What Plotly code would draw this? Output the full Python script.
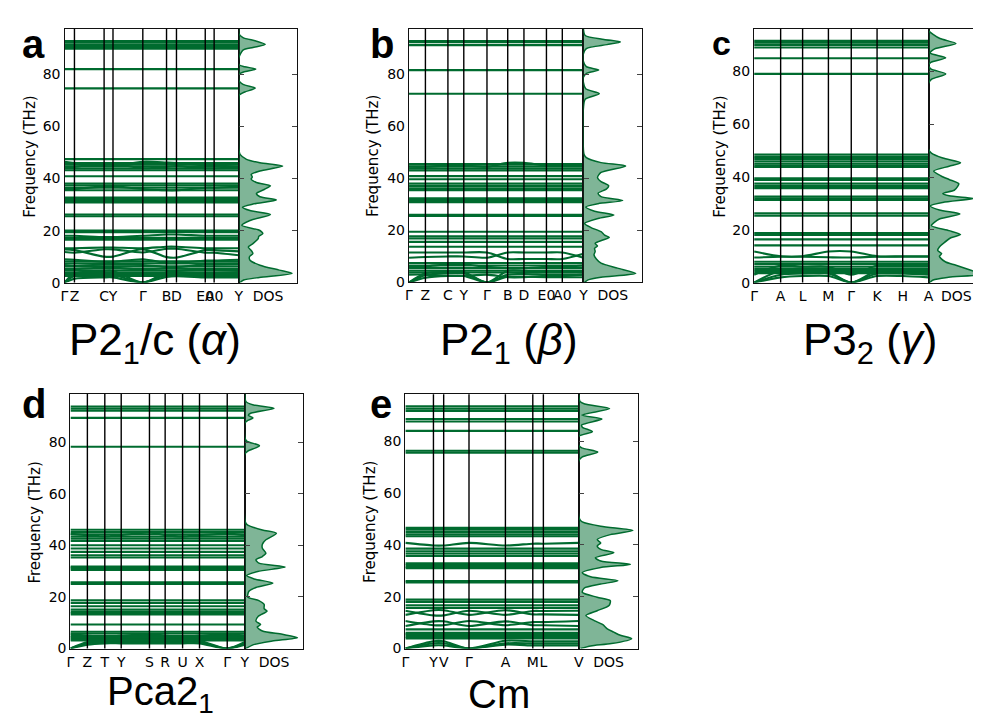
import plotly.graph_objects as go

# ---------------- DATA ----------------
# k-path node positions (normalised path length) and labels
kpos_a = [0, 0.057, 0.227, 0.278, 0.449, 0.585, 0.642, 0.807, 0.858, 1.0]
klab_a = ["Γ", "Z", "C", "Y", "Γ", "B", "D", "E0", "A0", "Y"]
kpos_b = [0, 0.094, 0.223, 0.314, 0.447, 0.566, 0.659, 0.788, 0.879, 1.0]
klab_b = ["Γ", "Z", "C", "Y", "Γ", "B", "D", "E0", "A0", "Y"]
kpos_c = [0, 0.152, 0.278, 0.426, 0.557, 0.705, 0.852, 1.0]
klab_c = ["Γ", "A", "L", "M", "Γ", "K", "H", "A"]
kpos_d = [0, 0.097, 0.197, 0.291, 0.453, 0.543, 0.643, 0.740, 0.899, 1.0]
klab_d = ["Γ", "Z", "T", "Y", "S", "R", "U", "X", "Γ", "Y"]
kpos_e = [0, 0.162, 0.221, 0.367, 0.577, 0.735, 0.796, 1.0]
klab_e = ["Γ", "Y", "V", "Γ", "A", "M", "L", "V"]

# frequency axis maxima (THz)
fmax_a, fmax_b, fmax_c, fmax_d, fmax_e = 97.6, 97.6, 96.2, 98.9, 98.2

# nearly flat phonon branches (THz)
flat_a = [92.9, 92.2, 91.4, 90.6, 89.9, 82.1, 74.7, 47.5, 46.0, 45.4, 44.7, 43.9, 43.2,
          40.9, 38.1, 37.4, 36.5, 35.5, 32.7, 32.1, 31.4, 30.8, 26.2, 25.5, 20.0, 19.4,
          17.2, 16.5, 8.2, 7.4, 6.3, 5.4, 4.6, 3.8, 3.3, 2.6]
flat_b = [92.9, 92.4, 91.3, 81.7, 72.6, 45.5, 44.7, 43.9, 43.1, 40.9, 39.7, 38.0, 37.1,
          36.2, 35.5, 32.4, 31.7, 30.9, 26.0, 25.6, 19.5, 17.7, 16.9, 15.6, 13.7, 7.5,
          6.5, 5.5, 4.5, 3.8]
flat_c = [91.6, 90.9, 90.1, 89.1, 85.0, 79.1, 48.5, 47.6, 46.9, 46.0, 45.1, 44.4, 43.8,
          39.5, 38.9, 37.5, 36.6, 35.8, 32.6, 31.9, 31.3, 26.3, 25.4, 18.8, 18.1, 16.4,
          14.1, 7.9, 7.0, 6.0, 5.1, 4.4, 3.6]
flat_d = [93.9, 93.1, 92.3, 89.5, 78.3, 46.1, 45.2, 44.3, 43.4, 42.6, 41.7, 40.1, 38.8,
          37.5, 36.2, 35.3, 31.8, 31.5, 31.1, 30.5, 25.7, 25.1, 18.7, 17.7, 16.4, 15.1,
          14.2, 13.7, 13.2, 9.3, 6.5, 5.8, 4.9, 4.0, 3.1, 3.5, 4.4]
flat_e = [93.6, 92.7, 91.8, 88.7, 87.7, 84.1, 76.4, 75.7, 46.6, 45.9, 45.0, 44.1, 43.4,
          38.6, 37.6, 36.7, 35.8, 32.9, 32.2, 31.5, 31.0, 26.1, 25.5, 18.9, 18.0, 16.7,
          15.7, 7.4, 6.1, 5.1, 3.9, 4.5, 5.6]

# dispersive branches: frequency at each k-path node (THz)
disp_a = [
    [0, 1.5, 2.0, 2.0, 0, 2.2, 2.5, 2.0, 2.0, 2.0],
    [0, 2.5, 3.0, 3.0, 0, 3.2, 3.5, 3.0, 3.0, 3.0],
    [0, 3.5, 4.5, 4.5, 0, 4.0, 4.5, 5.0, 5.0, 4.5],
    [12.8, 12.5, 10.0, 10.0, 12.8, 9.8, 9.6, 12.5, 12.5, 12.0],
    [11.8, 11.5, 12.8, 12.8, 11.6, 13.0, 13.0, 11.5, 11.5, 10.5],
    [13.2, 13.2, 13.5, 13.5, 13.2, 13.8, 13.8, 13.2, 13.2, 13.2],
    [9.0, 8.8, 8.0, 8.0, 9.0, 7.5, 7.5, 8.5, 8.5, 8.8],
    [46.5, 46.0, 44.8, 44.8, 46.5, 46.2, 46.0, 45.0, 45.0, 45.5],
    [44.0, 44.5, 45.8, 45.8, 44.0, 44.5, 44.8, 44.0, 44.0, 44.2],
    [36.0, 36.0, 37.0, 37.0, 36.0, 35.5, 35.5, 36.5, 36.5, 36.8],
    [31.0, 31.2, 31.8, 31.8, 31.0, 32.2, 32.2, 31.5, 31.5, 31.5],
    [18.0, 18.0, 17.5, 17.5, 18.0, 18.5, 18.5, 18.0, 18.0, 18.0],
    [6.8, 6.5, 7.0, 7.0, 6.8, 6.0, 6.0, 7.0, 7.0, 7.2],
    [5.0, 5.2, 5.8, 5.8, 5.0, 5.5, 5.5, 5.0, 5.0, 5.2],
]
disp_b = [
    [0, 1.8, 2.5, 2.5, 0, 2.2, 2.2, 2.0, 2.0, 2.0],
    [0, 2.8, 3.5, 3.5, 0, 3.0, 3.2, 3.0, 3.0, 3.0],
    [0, 3.5, 4.0, 4.0, 0, 4.5, 4.5, 4.0, 4.0, 4.0],
    [11.5, 11.5, 11.5, 11.5, 11.5, 9.0, 9.0, 9.0, 9.0, 11.0],
    [9.5, 9.8, 10.0, 10.0, 9.5, 11.5, 11.5, 11.5, 11.5, 9.5],
    [44.5, 44.5, 45.0, 45.0, 44.5, 46.0, 46.0, 45.0, 45.0, 45.0],
    [6.0, 6.2, 7.0, 7.0, 6.0, 5.5, 5.5, 6.0, 6.0, 6.5],
    [3.0, 3.0, 2.5, 2.5, 3.0, 2.0, 2.0, 2.5, 2.5, 3.0],
]
disp_c = [
    [0, 2.0, 2.5, 2.5, 0, 2.5, 2.5, 2.0],
    [0, 3.0, 3.5, 3.5, 0, 3.5, 3.5, 3.0],
    [0, 4.5, 4.0, 4.0, 0, 4.5, 4.5, 4.5],
    [11.8, 10.0, 10.0, 11.8, 11.8, 10.0, 10.0, 10.0],
    [9.5, 9.8, 9.8, 9.6, 9.5, 9.8, 9.8, 9.8],
    [3.0, 6.5, 6.0, 6.0, 3.0, 6.5, 6.5, 6.5],
]
disp_d = [
    [0, 1.5, 2.0, 2.0, 2.0, 2.0, 2.0, 2.0, 0, 1.5],
    [0, 2.0, 2.5, 2.5, 2.5, 2.5, 2.5, 2.5, 0, 2.0],
    [0, 2.5, 3.0, 3.0, 3.0, 3.0, 3.0, 3.0, 0, 2.5],
    [44.5, 44.0, 43.5, 44.0, 45.0, 44.0, 43.5, 44.0, 44.5, 44.0],
    [5.5, 5.0, 4.5, 5.0, 5.5, 5.0, 4.5, 5.0, 5.5, 5.0],
]
disp_e = [
    [0, 2.0, 2.0, 0, 2.0, 2.0, 2.0, 2.0],
    [0, 2.8, 2.8, 0, 3.0, 2.8, 2.8, 2.8],
    [0, 1.2, 1.2, 0, 1.5, 1.2, 1.2, 1.2],
    [40.8, 39.8, 39.8, 40.8, 39.8, 40.5, 40.5, 40.8],
    [14.6, 12.8, 12.8, 14.6, 13.0, 14.5, 14.5, 14.6],
    [13.0, 14.8, 14.8, 13.0, 14.8, 13.2, 13.2, 13.0],
    [8.7, 10.5, 10.5, 8.7, 10.5, 9.0, 9.0, 8.7],
    [10.6, 9.0, 9.0, 10.6, 9.0, 10.2, 10.2, 10.6],
]

# phonon DOS: frequency (THz) and normalised density
dosf_a = [0, 1, 2, 3.5, 4.8, 6.7, 8.6, 9.9, 11.2, 12.4, 13.7, 15.0, 16.9, 17.8, 18.8, 19.7,
          20.3, 22.0, 23.9, 26.2, 27.7, 29.0, 30.2, 31.8, 33.0, 34.3, 35.9, 37.2, 38.5,
          39.8, 40.6, 41.6, 42.9, 44.8, 46.1, 47.4, 49.3, 51, 71, 72.2, 73.3, 74.8, 76.2,
          77.7, 80.2, 81.0, 82.1, 83.0, 83.8, 86.5, 89.4, 90.4, 91.6, 92.9, 94.2, 95.7, 97.6]
dosv_a = [0.02, 0.08, 0.35, 0.91, 0.69, 0.36, 0.19, 0.18, 0.24, 0.21, 0.16, 0.24, 0.33, 0.34,
          0.41, 0.38, 0.33, 0.05, 0.19, 0.54, 0.19, 0.06, 0.24, 0.64, 0.36, 0.30, 0.44, 0.54,
          0.30, 0.21, 0.23, 0.21, 0.36, 0.75, 0.36, 0.13, 0.02, 0, 0, 0.01, 0.10, 0.28, 0.07,
          0, 0, 0.08, 0.29, 0.10, 0, 0, 0.07, 0.24, 0.45, 0.29, 0.07, 0, 0]
dosf_b = [0, 1, 2, 3.5, 5.5, 7.4, 9.0, 10.6, 11.9, 13.1, 14.0, 15.0, 16.3, 17.3, 18.2, 19.5,
          21.1, 22.7, 24.6, 25.9, 27.4, 29.0, 30.3, 31.5, 33.0, 34.3, 35.9, 37.2, 38.8, 40.4,
          42.3, 44.8, 46.1, 48.0, 49.3, 51, 67, 70.5, 72.6, 74.5, 77, 79, 80.5, 81.7, 83.0,
          85, 88, 90, 91.5, 92.5, 93.5, 95, 97.6]
dosv_b = [0.02, 0.08, 0.30, 0.89, 0.58, 0.30, 0.22, 0.18, 0.20, 0.19, 0.24, 0.20, 0.33, 0.44,
          0.36, 0.30, 0.13, 0.02, 0.25, 0.52, 0.19, 0.04, 0.25, 0.67, 0.30, 0.25, 0.39, 0.43,
          0.30, 0.24, 0.30, 0.72, 0.30, 0.05, 0.01, 0, 0, 0.03, 0.27, 0.04, 0, 0, 0.06, 0.26,
          0.05, 0, 0, 0.05, 0.40, 0.63, 0.35, 0.03, 0]
dosf_c = [0, 1, 2, 3.2, 4.7, 6.6, 7.8, 9.1, 10.0, 11.0, 12.2, 13.5, 14.7, 17.0, 18.2, 19.7,
          21.6, 24.1, 26.0, 27.5, 29.1, 30.4, 31.9, 32.9, 33.8, 35.0, 36.5, 37.5, 39.1, 40.4,
          42.3, 44.1, 45.4, 47.2, 49.1, 50.5, 75.5, 77.0, 79.1, 81.0, 82.5, 83.5, 85.2, 87,
          88.5, 90.6, 92.5, 94.1, 95.5, 96.2]
dosv_c = [0.02, 0.08, 0.35, 0.93, 0.74, 0.48, 0.30, 0.22, 0.19, 0.23, 0.16, 0.19, 0.25, 0.39,
          0.56, 0.36, 0.05, 0.19, 0.55, 0.19, 0.03, 0.25, 0.79, 0.36, 0.25, 0.45, 0.51, 0.53,
          0.36, 0.22, 0.09, 0.36, 0.56, 0.25, 0.05, 0, 0, 0.05, 0.30, 0.04, 0, 0.04, 0.30,
          0.03, 0.10, 0.48, 0.20, 0.08, 0, 0]
dosf_d = [0, 1.5, 2.9, 4.2, 5.5, 6.8, 8.3, 9.3, 10.6, 12.5, 14.5, 15.5, 17.1, 18.6, 19.9,
          22.2, 23.7, 25.4, 27.0, 28.3, 29.9, 31.6, 33.1, 34.4, 35.7, 37.0, 38.9, 40.5, 42.2,
          44.7, 46.0, 47.9, 48.6, 50, 75.5, 76.6, 78.7, 80.5, 82, 87.5, 88.5, 89.5, 90.5,
          91.3, 93.2, 94.5, 95.8, 98.9]
dosv_d = [0.02, 0.15, 0.47, 0.90, 0.64, 0.30, 0.21, 0.27, 0.19, 0.23, 0.38, 0.33, 0.33, 0.24,
          0.05, 0.07, 0.19, 0.48, 0.16, 0.03, 0.22, 0.69, 0.24, 0.19, 0.30, 0.36, 0.30, 0.30,
          0.36, 0.54, 0.30, 0.05, 0.02, 0, 0, 0.05, 0.25, 0.03, 0, 0, 0.05, 0.14, 0.06, 0.10,
          0.50, 0.15, 0.02, 0]
dosf_e = [0, 1.0, 1.9, 3.8, 5.1, 6.3, 7.6, 9.3, 10.8, 12.7, 14.6, 16.6, 18.5, 19.8, 21.7,
          23.3, 24.9, 26.2, 27.7, 29.3, 31.3, 32.5, 33.8, 35.1, 37.0, 38.3, 39.6, 40.8, 42.1,
          44.0, 45.6, 47.2, 48.9, 49.8, 51, 72.5, 74, 75.9, 77.5, 78.5, 82, 83.8, 85.5, 86.4,
          88.7, 90.2, 92.7, 94.5, 95.5, 98.2]
dosv_e = [0.03, 0.20, 0.55, 0.89, 0.70, 0.59, 0.48, 0.40, 0.26, 0.12, 0.31, 0.51, 0.53, 0.31,
          0.06, 0.09, 0.37, 0.66, 0.20, 0.06, 0.37, 0.87, 0.37, 0.28, 0.59, 0.37, 0.31, 0.37,
          0.31, 0.53, 0.91, 0.37, 0.06, 0.02, 0, 0, 0.06, 0.32, 0.05, 0, 0, 0.23, 0.06, 0.05,
          0.39, 0.05, 0.52, 0.10, 0.02, 0]

panel_letters = ["a", "b", "c", "d", "e"]
panel_titles = ["P2<sub>1</sub>/c (<i>α</i>)", "P2<sub>1</sub> (<i>β</i>)",
                "P3<sub>2</sub> (<i>γ</i>)", "Pca2<sub>1</sub>", "Cm"]
freq_ticks = [0, 20, 40, 60, 80]

# ---------------- LAYOUT (pixel boxes) ----------------
W, H = 981, 720
GREEN = "#006b2f"
FILL = "rgba(0,107,47,0.5)"
AX = "#111111"

panels = [
    dict(kpos=kpos_a, klab=klab_a, fmax=fmax_a, flat=flat_a, disp=disp_a, dosf=dosf_a, dosv=dosv_a,
         box=(53, 229, 288, 21, 277.7), dmax=1.0, ylab=(18.5, 150), letter=(22, 36, 40),
         title=(144, 339, 44)),
    dict(kpos=kpos_b, klab=klab_b, fmax=fmax_b, flat=flat_b, disp=disp_b, dosf=dosf_b, dosv=dosv_b,
         box=(400.7, 576.7, 636, 21, 277.5), dmax=1.0, ylab=(365, 150), letter=(373, 36, 40),
         title=(502, 339, 44)),
    dict(kpos=kpos_c, klab=klab_c, fmax=fmax_c, flat=flat_c, disp=disp_c, dosf=dosf_c, dosv=dosv_c,
         box=(749, 925, 981, 21, 277.7), dmax=0.97, ylab=(715, 150), letter=(716, 35, 34),
         title=(866, 339, 44)),
    dict(kpos=kpos_d, klab=klab_d, fmax=fmax_d, flat=flat_d, disp=disp_d, dosf=dosf_d, dosv=dosv_d,
         box=(59, 235, 294, 390, 647.7), dmax=1.0, ylab=(23.5, 520), letter=(22, 400, 40),
         title=(150, 694, 40)),
    dict(kpos=kpos_e, klab=klab_e, fmax=fmax_e, flat=flat_e, disp=disp_e, dosf=dosf_e, dosv=dosv_e,
         box=(397, 572, 632, 390.7, 647.7), dmax=1.0, ylab=(362, 520), letter=(372, 400, 40),
         title=(492, 694, 40)),
]


def fx(p):
    return max(0.0, min(1.0, p / W))


def fy(p):
    return max(0.0, min(1.0, 1 - p / H))


fig = go.Figure()
layout = dict(width=W, height=H, margin=dict(l=0, r=0, t=0, b=0), paper_bgcolor="white",
              plot_bgcolor="white", showlegend=False)
shapes, annotations = [], []
tickfont = dict(family="DejaVu Sans", size=14, color="black")

for i, p in enumerate(panels):
    nb, nd = 2 * i + 1, 2 * i + 2
    sb = "" if nb == 1 else str(nb)
    sd = str(nd)
    x0, x1, x2, yt, yb = p["box"]

    # bands
    xs, ys = [], []
    for f in p["flat"]:
        xs += [p["kpos"][0], p["kpos"][-1], None]
        ys += [f, f, None]
    for b in p["disp"]:
        xs += list(p["kpos"]) + [None]
        ys += list(b) + [None]
    fig.add_trace(go.Scatter(x=xs, y=ys, mode="lines", xaxis="x" + sb, yaxis="y" + sb,
                             line=dict(color=GREEN, width=2.1, shape="spline", smoothing=0.8),
                             hoverinfo="skip"))
    # DOS
    fig.add_trace(go.Scatter(x=p["dosv"], y=p["dosf"], mode="lines", xaxis="x" + sd, yaxis="y" + sd,
                             fill="tozerox", fillcolor=FILL,
                             line=dict(color=GREEN, width=1.5, shape="spline", smoothing=0.7),
                             hoverinfo="skip"))

    common = dict(showgrid=False, zeroline=False, showline=True, mirror=True,
                  linecolor=AX, linewidth=1.4)
    layout["xaxis" + sb] = dict(domain=[fx(x0), fx(x1)], range=[0, 1], anchor="y" + sb,
                                tickmode="array", tickvals=p["kpos"], ticktext=p["klab"],
                                ticks="", tickangle=0, tickfont=tickfont, **common)
    layout["yaxis" + sb] = dict(domain=[fy(yb), fy(yt)], range=[0, p["fmax"]], anchor="x" + sb,
                                tickmode="array", tickvals=freq_ticks, ticks="",
                                tickfont=tickfont, **common)
    layout["xaxis" + sd] = dict(domain=[fx(x1), fx(x2)], range=[0, p["dmax"]], anchor="y" + sd,
                                tickmode="array", tickvals=[p["dmax"] / 2], ticktext=["DOS"],
                                ticks="", tickangle=0, tickfont=tickfont, **common)
    cd = dict(common)
    cd["mirror"] = "ticks"
    layout["yaxis" + sd] = dict(domain=[fy(yb), fy(yt)], range=[0, p["fmax"]], anchor="x" + sd,
                                tickmode="array", tickvals=freq_ticks, ticks="inside",
                                ticklen=5, tickwidth=1.4, tickcolor="#444444",
                                showticklabels=False, **cd)

    # high-symmetry vertical lines
    for k in p["kpos"][1:-1]:
        shapes.append(dict(type="line", xref="x" + sb, yref="y" + sb + " domain",
                           x0=k, x1=k, y0=0, y1=1, layer="above",
                           line=dict(color="black", width=1.4)))

    # y-axis title
    lx, ly = p["ylab"]
    annotations.append(dict(text="Frequency (THz)", x=fx(lx), y=fy(ly), xref="paper", yref="paper",
                            showarrow=False, textangle=-90, xanchor="center", yanchor="middle",
                            font=dict(family="DejaVu Sans", size=15, color="black")))
    # panel letter
    ax_, ay_, asz = p["letter"]
    annotations.append(dict(text="<b>" + panel_letters[i] + "</b>", x=fx(ax_), y=fy(ay_),
                            xref="paper", yref="paper", showarrow=False,
                            xanchor="center", yanchor="middle",
                            font=dict(family="Liberation Sans", size=asz, color="black")))
    # space-group title
    tx, ty, tsz = p["title"]
    annotations.append(dict(text=panel_titles[i], x=fx(tx), y=fy(ty), xref="paper", yref="paper",
                            showarrow=False, xanchor="center", yanchor="middle",
                            font=dict(family="Liberation Sans", size=tsz, color="black")))

layout["shapes"] = shapes
layout["annotations"] = annotations
fig.update_layout(**layout)
fig.write_html("out.html")
